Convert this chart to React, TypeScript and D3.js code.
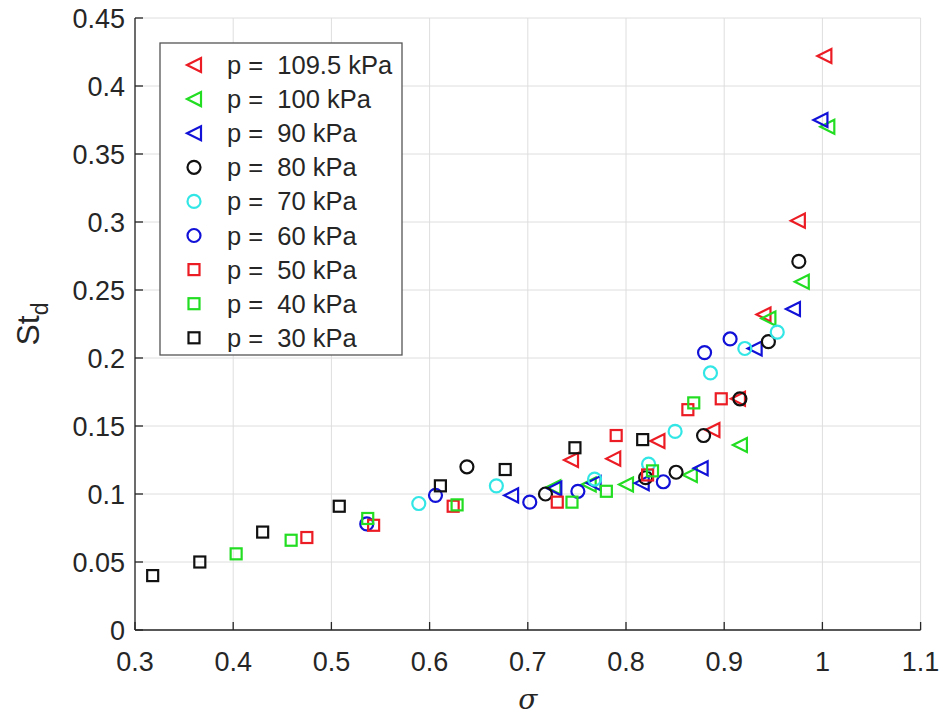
import React from "react";
import * as d3 from "d3";

const xTicks = [0.3, 0.4, 0.5, 0.6, 0.7, 0.8, 0.9, 1.0, 1.1];
const yTicks = [0, 0.05, 0.1, 0.15, 0.2, 0.25, 0.3, 0.35, 0.4, 0.45];

const p1095X = [1.002, 0.975, 0.94, 0.914, 0.888, 0.832, 0.787, 0.744];
const p1095Y = [0.422, 0.301, 0.232, 0.17, 0.147, 0.139, 0.126, 0.125];
const p100X = [1.005, 0.979, 0.945, 0.916, 0.865, 0.8, 0.762, 0.726];
const p100Y = [0.37, 0.256, 0.229, 0.136, 0.114, 0.107, 0.107, 0.105];
const p90X = [0.998, 0.97, 0.931, 0.876, 0.816, 0.767, 0.727, 0.683];
const p90Y = [0.375, 0.236, 0.207, 0.119, 0.108, 0.108, 0.104, 0.099];
const p80X = [0.976, 0.945, 0.916, 0.879, 0.851, 0.82, 0.718, 0.638];
const p80Y = [0.271, 0.212, 0.17, 0.143, 0.116, 0.112, 0.1, 0.12];
const p70X = [0.954, 0.921, 0.886, 0.85, 0.823, 0.768, 0.668, 0.589];
const p70Y = [0.219, 0.207, 0.189, 0.146, 0.122, 0.111, 0.106, 0.093];
const p60X = [0.906, 0.88, 0.838, 0.751, 0.702, 0.606, 0.536];
const p60Y = [0.214, 0.204, 0.109, 0.102, 0.094, 0.099, 0.078];
const p50X = [0.897, 0.863, 0.79, 0.822, 0.73, 0.624, 0.543, 0.475];
const p50Y = [0.17, 0.162, 0.143, 0.114, 0.094, 0.091, 0.077, 0.068];
const p40X = [0.869, 0.827, 0.78, 0.745, 0.628, 0.537, 0.459, 0.403];
const p40Y = [0.167, 0.117, 0.102, 0.094, 0.092, 0.082, 0.066, 0.056];
const p30X = [0.817, 0.748, 0.677, 0.611, 0.508, 0.43, 0.366, 0.318];
const p30Y = [0.14, 0.134, 0.118, 0.106, 0.091, 0.072, 0.05, 0.04];

const seriesLabels = [
  "p =  109.5 kPa",
  "p =  100 kPa",
  "p =  90 kPa",
  "p =  80 kPa",
  "p =  70 kPa",
  "p =  60 kPa",
  "p =  50 kPa",
  "p =  40 kPa",
  "p =  30 kPa",
];

const RED = "#ec1c24";
const GREEN = "#22dd22";
const BLUE = "#1111d8";
const BLACK = "#111111";
const CYAN = "#33e6e6";

type Shape = "tri" | "circle" | "square";
const series: { label: string; xs: number[]; ys: number[]; shape: Shape; color: string }[] = [
  { label: seriesLabels[0], xs: p1095X, ys: p1095Y, shape: "tri", color: RED },
  { label: seriesLabels[1], xs: p100X, ys: p100Y, shape: "tri", color: GREEN },
  { label: seriesLabels[2], xs: p90X, ys: p90Y, shape: "tri", color: BLUE },
  { label: seriesLabels[3], xs: p80X, ys: p80Y, shape: "circle", color: BLACK },
  { label: seriesLabels[4], xs: p70X, ys: p70Y, shape: "circle", color: CYAN },
  { label: seriesLabels[5], xs: p60X, ys: p60Y, shape: "circle", color: BLUE },
  { label: seriesLabels[6], xs: p50X, ys: p50Y, shape: "square", color: RED },
  { label: seriesLabels[7], xs: p40X, ys: p40Y, shape: "square", color: GREEN },
  { label: seriesLabels[8], xs: p30X, ys: p30Y, shape: "square", color: BLACK },
];

const W = 943;
const H = 715;
const X0 = 135;
const X1 = 920.6;
const Y0 = 630;
const Y1 = 18;
const AX = "#262626";
const FONT = "'Liberation Sans', Arial, Helvetica, sans-serif";

function Marker({ shape, color, cx, cy }: { shape: Shape; color: string; cx: number; cy: number }) {
  const sw = 2.2;
  if (shape === "tri") {
    const pts = [
      [cx - 7, cy],
      [cx + 7, cy - 7],
      [cx + 7, cy + 7],
    ];
    return <polygon points={pts.map((p) => p.join(",")).join(" ")} fill="none" stroke={color} strokeWidth={sw} strokeLinejoin="miter" />;
  }
  if (shape === "circle") {
    return <circle cx={cx} cy={cy} r={6.5} fill="none" stroke={color} strokeWidth={sw} />;
  }
  return <rect x={cx - 5.5} y={cy - 5.5} width={11} height={11} fill="none" stroke={color} strokeWidth={sw} />;
}

export default function App() {
  const x = d3.scaleLinear().domain([0.3, 1.1]).range([X0, X1]);
  const y = d3.scaleLinear().domain([0, 0.45]).range([Y0, Y1]);
  const fmt = (v: number) => String(+v.toFixed(2));

  const legX = 160;
  const legY = 43;
  const legW = 242;
  const legH = 312;
  const rowH = 34.1;

  return (
    <svg width={W} height={H} style={{ position: "absolute", left: 0, top: 0, background: "#fff" }}>
      <rect x={0} y={0} width={W} height={H} fill="#fff" />
      {/* grid */}
      <g stroke="#dedede" strokeWidth={1}>
        {xTicks.map((t) => (
          <line key={"gx" + t} x1={x(t)} x2={x(t)} y1={Y0} y2={Y1} />
        ))}
        {yTicks.map((t) => (
          <line key={"gy" + t} x1={X0} x2={X1} y1={y(t)} y2={y(t)} />
        ))}
      </g>
      {/* axes */}
      <g stroke={AX} strokeWidth={1.3}>
        <line x1={X0} x2={X0} y1={Y0} y2={Y1} />
        <line x1={X0} x2={X1} y1={Y0} y2={Y0} />
        {xTicks.map((t) => (
          <line key={"tx" + t} x1={x(t)} x2={x(t)} y1={Y0} y2={Y0 - 8} />
        ))}
        {yTicks.map((t) => (
          <line key={"ty" + t} x1={X0} x2={X0 + 8} y1={y(t)} y2={y(t)} />
        ))}
      </g>
      {/* tick labels */}
      <g fill={AX} fontFamily={FONT} fontSize={27}>
        {xTicks.map((t) => (
          <text key={"lx" + t} x={x(t)} y={Y0 + 41} textAnchor="middle">
            {fmt(t)}
          </text>
        ))}
        {yTicks.map((t) => (
          <text key={"ly" + t} x={X0 - 10} y={y(t) + 9.7} textAnchor="end">
            {fmt(t)}
          </text>
        ))}
      </g>
      {/* axis labels */}
      <text x={(X0 + X1) / 2} y={709} textAnchor="middle" fontFamily="'DejaVu Serif', 'Liberation Serif', serif" fontStyle="italic" fontSize={28} fill={AX}>
        σ
      </text>
      <text transform={`translate(39, ${(Y0 + Y1) / 2}) rotate(-90)`} textAnchor="middle" fontFamily={FONT} fontSize={32} fill={AX}>
        St
        <tspan fontSize={23} dy={9}>d</tspan>
      </text>
      {/* data */}
      {series.map((s, si) => (
        <g key={"s" + si}>
          {s.xs.map((xv, i) => (
            <Marker key={i} shape={s.shape} color={s.color} cx={x(xv)} cy={y(s.ys[i])} />
          ))}
        </g>
      ))}
      {/* legend */}
      <rect x={legX} y={legY} width={legW} height={legH} fill="#fff" stroke="#555" strokeWidth={1.3} />
      {series.map((s, i) => {
        const cy = legY + 22 + i * rowH;
        return (
          <g key={"leg" + i}>
            <Marker shape={s.shape} color={s.color} cx={194} cy={cy} />
            <text x={227} y={cy + 9} fontFamily={FONT} fontSize={25.5} fill={AX} style={{ whiteSpace: "pre" }} xmlSpace="preserve">
              {s.label}
            </text>
          </g>
        );
      })}
    </svg>
  );
}
